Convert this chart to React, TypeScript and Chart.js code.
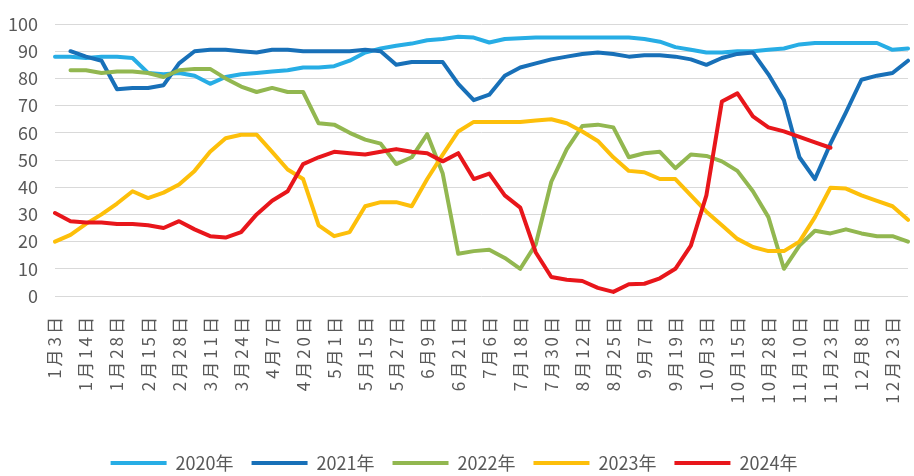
import React, { useEffect, useRef } from 'react';
import { Chart, registerables } from 'chart.js';

Chart.register(...registerables);

// Tick labels shown on the x axis (every other weekly observation is labelled)
const tickLabels = [
  '1月3日', '1月14日', '1月28日', '2月15日', '2月28日', '3月11日', '3月24日',
  '4月7日', '4月20日', '5月1日', '5月15日', '5月27日', '6月9日', '6月21日',
  '7月6日', '7月18日', '7月30日', '8月12日', '8月25日', '9月7日', '9月19日',
  '10月3日', '10月15日', '10月28日', '11月10日', '11月23日', '12月8日', '12月23日',
];
const categories = tickLabels.flatMap((t) => [t, '']);

const seriesNames = ['2020年', '2021年', '2022年', '2023年', '2024年'];

const values2020 = [
  88, 88, 87.5, 88, 88, 87.5, 82, 81.5, 82, 81,
  78, 80.5, 81.5, 82, 82.5, 83, 84, 84, 84.5, 86.5,
  89.5, 91, 92, 92.8, 94, 94.5, 95.3, 95, 93.2, 94.5,
  94.8, 95, 95, 95, 95, 95, 95, 95, 94.5, 93.5,
  91.5, 90.5, 89.5, 89.5, 90, 90, 90.5, 91, 92.5, 93,
  93, 93, 93, 93, 90.5, 91,
];
const values2021 = [
  null, 90, 88, 86.5, 76, 76.5, 76.5, 77.5, 85.5, 90,
  90.5, 90.5, 90, 89.5, 90.5, 90.5, 90, 90, 90, 90,
  90.5, 90, 85, 86, 86, 86, 78, 72, 74, 81,
  84, 85.5, 87, 88, 89, 89.5, 89, 88, 88.5, 88.5,
  88, 87, 85, 87.5, 89, 89.5, 81.5, 72, 51, 43,
  56, 67.5, 79.5, 81, 82, 86.5,
];
const values2022 = [
  null, 83, 83, 82, 82.5, 82.5, 82, 80.5, 83, 83.5,
  83.5, 80, 77, 75, 76.5, 75, 75, 63.5, 63, 60,
  57.5, 56, 48.5, 51, 59.5, 45, 15.5, 16.5, 17, 14,
  10, 19, 42, 54, 62.5, 63, 62, 51, 52.5, 53,
  47, 52, 51.5, 49.5, 46, 38.5, 29, 10, 18.5, 24,
  23, 24.5, 23, 22, 22, 20,
];
const values2023 = [
  20, 22.5, 26.5, 30, 34, 38.5, 36, 38, 41, 46,
  53, 58, 59.3, 59.3, 53, 46.5, 43, 26, 22, 23.5,
  33, 34.5, 34.5, 33, 43, 52, 60.5, 64, 64, 64,
  64, 64.5, 65, 63.5, 60.5, 57, 51, 46, 45.5, 43,
  43, 37, 31, 26, 21, 18, 16.5, 16.5, 20, 29,
  39.8, 39.5, 37, 35, 33, 28,
];
const values2024 = [
  30.5, 27.5, 27, 27, 26.5, 26.5, 26, 25, 27.5, 24.5,
  22, 21.5, 23.5, 30, 35, 38.5, 48.5, 51, 53, 52.5,
  52, 53, 54, 53, 52.5, 49.5, 52.5, 43, 45, 37,
  32.5, 16, 7, 6, 5.5, 3, 1.5, 4.3, 4.5, 6.5,
  10, 18.5, 37, 71.5, 74.5, 66, 62, 60.5, 58.5, 56.5,
  54.5, null, null, null, null, null,
];

const seriesValues = [values2020, values2021, values2022, values2023, values2024];
const seriesColors = ['#27ade5', '#1870b8', '#92b750', '#fdbf0a', '#e8161b'];

const FONT = '"Noto Sans CJK SC", "Liberation Sans", sans-serif';
const TEXT = '#595959';

export default function App() {
  const ref = useRef<HTMLCanvasElement>(null);

  useEffect(() => {
    const canvas = ref.current;
    if (!canvas) return;
    const chart = new Chart(canvas, {
      type: 'line',
      data: {
        labels: categories,
        datasets: seriesNames.map((name, i) => ({
          label: name,
          data: seriesValues[i],
          borderColor: seriesColors[i],
          backgroundColor: seriesColors[i],
          borderWidth: 4,
          tension: 0,
          pointRadius: 0,
          pointHoverRadius: 0,
          pointStyle: 'line',
          borderCapStyle: 'round',
          borderJoinStyle: 'round',
          spanGaps: false,
          order: seriesNames.length - i,
        })),
      },
      options: {
        responsive: false,
        animation: false,
        layout: { padding: { top: 24, right: 6, bottom: 0, left: 0 } },
        plugins: {
          tooltip: { enabled: false },
          legend: {
            position: 'bottom',
            labels: {
              usePointStyle: true,
              pointStyleWidth: 56,
              padding: 18,
              color: TEXT,
              font: { family: FONT, size: 18 },
              sort: (a: any, b: any) => a.datasetIndex - b.datasetIndex,
            },
          },
        },
        scales: {
          x: {
            type: 'category',
            offset: false,
            grid: { display: false, drawTicks: false },
            border: { display: false },
            ticks: {
              autoSkip: false,
              maxRotation: 90,
              minRotation: 90,
              padding: 18,
              color: TEXT,
              font: { family: FONT, size: 17 },
            },
            afterFit: (s: any) => {
              s.height = 140;
              s.paddingLeft = 0;
              s.paddingRight = 0;
              if (!s.__spaced) {
                const orig = s.drawLabels;
                s.drawLabels = function (area: any) {
                  const c = this.ctx;
                  const prev = c.letterSpacing;
                  c.letterSpacing = '3px';
                  orig.call(this, area);
                  c.letterSpacing = prev;
                };
                s.__spaced = true;
              }
            },
          },
          y: {
            min: 0,
            max: 100,
            grid: { color: '#d9d9d9', drawTicks: false, lineWidth: 1 },
            border: { display: false },
            ticks: {
              stepSize: 10,
              padding: 17,
              color: TEXT,
              font: { family: FONT, size: 18 },
            },
            afterFit: (s: any) => {
              s.width = 55;
              s.paddingTop = 0;
              s.paddingBottom = 0;
            },
          },
        },
      },
    });
    return () => chart.destroy();
  }, []);

  return (
    <div style={{ position: 'fixed', left: 0, top: 0, width: 914, height: 482, background: '#fff' }}>
      <canvas ref={ref} width={914} height={482} style={{ display: 'block', width: 914, height: 482 }} />
    </div>
  );
}
